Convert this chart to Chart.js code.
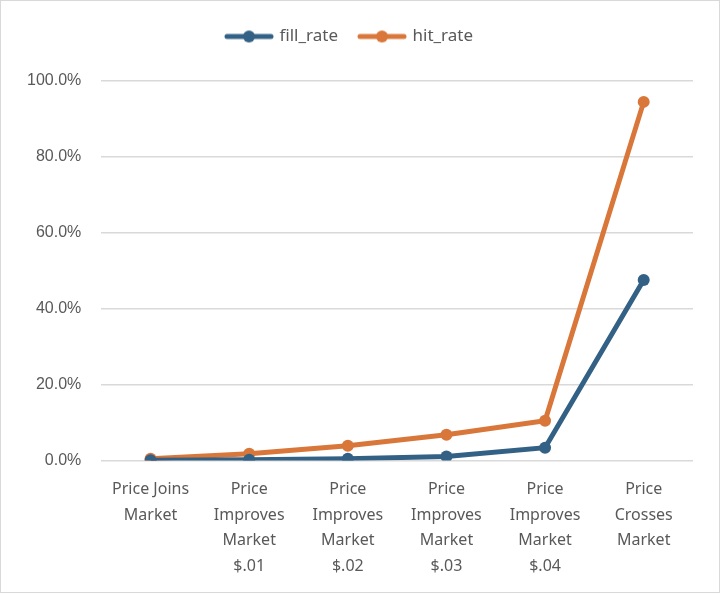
<!DOCTYPE html>
<html>
<head>
<meta charset="utf-8">
<script src="https://cdn.jsdelivr.net/npm/chart.js@4"></script>
<style>
  html, body { margin: 0; padding: 0; background: #fff; }
  #wrap { width: 718px; height: 591px; border: 1px solid #d9d9d9; position: relative; }
  canvas { display: block; }
</style>
</head>
<body>
<div id="wrap"><canvas id="chart" width="718" height="591"></canvas></div>
<script>
// categorías y series
const categories = [
  ['Price Joins', 'Market'],
  ['Price', 'Improves', 'Market', '$.01'],
  ['Price', 'Improves', 'Market', '$.02'],
  ['Price', 'Improves', 'Market', '$.03'],
  ['Price', 'Improves', 'Market', '$.04'],
  ['Price', 'Crosses', 'Market']
];
const fillRate = [0.1, 0.2, 0.5, 1.1, 3.4, 47.6];
const hitRate = [0.5, 1.8, 3.9, 6.8, 10.5, 94.5];
const yTicks = [0, 20, 40, 60, 80, 100];

const BLUE = '#336185';
const ORANGE = '#d9773a';
const FONT = '"Noto Sans", "Liberation Sans", sans-serif';
const NUM_FONT = '"Liberation Sans", Arial, sans-serif';

// icono de leyenda: línea con punto al centro
function legendIcon(color) {
  const c = document.createElement('canvas');
  c.width = 50; c.height = 14;
  const g = c.getContext('2d');
  g.strokeStyle = color; g.lineWidth = 5; g.lineCap = 'round';
  g.beginPath(); g.moveTo(3, 7); g.lineTo(47, 7); g.stroke();
  g.fillStyle = color;
  g.beginPath(); g.arc(25, 7, 6, 0, Math.PI * 2); g.fill();
  return c;
}

// espacio extra bajo la leyenda
const legendGap = {
  id: 'legendGap',
  beforeInit(chart) {
    const fit = chart.legend.fit;
    chart.legend.fit = function () {
      fit.bind(chart.legend)();
      this.height += 26;
    };
  }
};

new Chart(document.getElementById('chart'), {
  type: 'line',
  data: {
    labels: categories,
    datasets: [
      {
        label: 'fill_rate', data: fillRate,
        borderColor: BLUE, backgroundColor: BLUE, pointBackgroundColor: BLUE,
        borderWidth: 5, pointRadius: 6, pointBorderWidth: 0, tension: 0
      },
      {
        label: 'hit_rate', data: hitRate,
        borderColor: ORANGE, backgroundColor: ORANGE, pointBackgroundColor: ORANGE,
        borderWidth: 5, pointRadius: 6, pointBorderWidth: 0, tension: 0
      }
    ]
  },
  plugins: [legendGap],
  options: {
    responsive: false,
    animation: false,
    layout: { padding: { top: 5, right: 26, left: 6, bottom: -3 } },
    plugins: {
      legend: {
        position: 'top',
        labels: {
          usePointStyle: true,
          pointStyleWidth: 44,
          color: '#595959',
          font: { family: FONT, size: 17 },
          padding: 22,
          generateLabels(chart) {
            return chart.data.datasets.map((ds, i) => ({
              text: ds.label,
              pointStyle: legendIcon(ds.borderColor),
              fillStyle: ds.borderColor,
              strokeStyle: ds.borderColor,
              lineWidth: 0,
              hidden: false,
              datasetIndex: i,
              fontColor: '#595959'
            }));
          }
        }
      },
      tooltip: { enabled: false }
    },
    scales: {
      x: {
        offset: true,
        grid: { display: false, drawTicks: false },
        border: { display: false },
        ticks: {
          color: '#595959', font: { family: FONT, size: 16, lineHeight: 1.6 },
          maxRotation: 0, autoSkip: false, padding: 16
        }
      },
      y: {
        min: 0, max: 100,
        afterBuildTicks(axis) { axis.ticks = yTicks.map(v => ({ value: v })); },
        grid: { color: '#d9d9d9', lineWidth: 1.5, drawTicks: false },
        border: { display: false },
        ticks: {
          color: '#595959', font: { family: NUM_FONT, size: 16 }, padding: 20,
          callback: v => v.toFixed(1) + '%'
        }
      }
    }
  }
});
</script>
</body>
</html>
